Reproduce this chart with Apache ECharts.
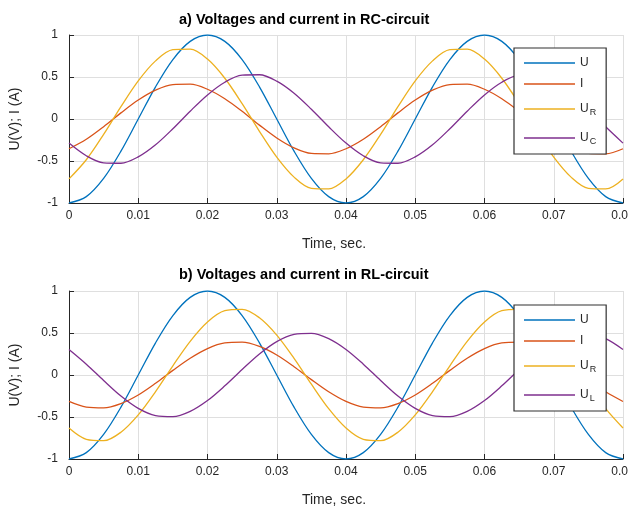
<!DOCTYPE html>
<html>
<head>
<meta charset="utf-8">
<script src="https://cdn.jsdelivr.net/npm/echarts@6/dist/echarts.min.js"></script>
<style>
  html, body { margin: 0; padding: 0; background: #fff; }
  #main { width: 628px; height: 508px; }
</style>
</head>
<body>
<div id="main"></div>
<script>
// time samples, sec.
var time = [0, 0.0025, 0.005, 0.0075, 0.01, 0.0125, 0.015, 0.0175, 0.02, 0.0225, 0.025, 0.0275, 0.03, 0.0325, 0.035, 0.0375,
    0.04, 0.0425, 0.045, 0.0475, 0.05, 0.0525, 0.055, 0.0575, 0.06, 0.0625, 0.065, 0.0675, 0.07, 0.0725, 0.075, 0.0775, 0.08];

// supply voltage (same in both circuits)
var uSupply = [-1, -0.924, -0.707, -0.383, 0, 0.383, 0.707, 0.924, 1, 0.924, 0.707, 0.383, 0, -0.383, -0.707, -0.924,
    -1, -0.924, -0.707, -0.383, 0, 0.383, 0.707, 0.924, 1, 0.924, 0.707, 0.383, 0, -0.383, -0.707, -0.924, -1];

// a) RC-circuit
var rcI = [-0.354, -0.241, -0.091, 0.073, 0.226, 0.344, 0.410, 0.414, 0.354, 0.241, 0.091, -0.073, -0.226, -0.344, -0.410, -0.414,
    -0.354, -0.241, -0.091, 0.073, 0.226, 0.344, 0.410, 0.414, 0.354, 0.241, 0.091, -0.073, -0.226, -0.344, -0.410, -0.414, -0.354];
var rcUR = [-0.713, -0.485, -0.183, 0.147, 0.454, 0.692, 0.825, 0.832, 0.713, 0.485, 0.183, -0.147, -0.454, -0.692, -0.825, -0.832,
    -0.713, -0.485, -0.183, 0.147, 0.454, 0.692, 0.825, 0.832, 0.713, 0.485, 0.183, -0.147, -0.454, -0.692, -0.825, -0.832, -0.713];
var rcUC = [-0.287, -0.438, -0.522, -0.527, -0.451, -0.307, -0.116, 0.093, 0.287, 0.438, 0.522, 0.527, 0.451, 0.307, 0.116, -0.093,
    -0.287, -0.438, -0.522, -0.527, -0.451, -0.307, -0.116, 0.093, 0.287, 0.438, 0.522, 0.527, 0.451, 0.307, 0.116, -0.093, -0.287];

// b) RL-circuit
var rlI = [-0.315, -0.382, -0.391, -0.340, -0.238, -0.099, 0.055, 0.200, 0.315, 0.382, 0.391, 0.340, 0.238, 0.099, -0.055, -0.200,
    -0.315, -0.382, -0.391, -0.340, -0.238, -0.099, 0.055, 0.200, 0.315, 0.382, 0.391, 0.340, 0.238, 0.099, -0.055, -0.200, -0.315];
var rlUR = [-0.631, -0.765, -0.782, -0.681, -0.475, -0.198, 0.110, 0.401, 0.631, 0.765, 0.782, 0.681, 0.475, 0.198, -0.110, -0.401,
    -0.631, -0.765, -0.782, -0.681, -0.475, -0.198, 0.110, 0.401, 0.631, 0.765, 0.782, 0.681, 0.475, 0.198, -0.110, -0.401, -0.631];
var rlUL = [0.304, 0.129, -0.065, -0.250, -0.397, -0.483, -0.496, -0.433, -0.304, -0.129, 0.065, 0.250, 0.397, 0.483, 0.496, 0.433,
    0.304, 0.129, -0.065, -0.250, -0.397, -0.483, -0.496, -0.433, -0.304, -0.129, 0.065, 0.250, 0.397, 0.483, 0.496, 0.433, 0.304];

var titles = ['a) Voltages and current in RC-circuit', 'b) Voltages and current in RL-circuit'];
var legendTop = ['U', 'I', 'U_R', 'U_C'];
var legendBottom = ['U', 'I', 'U_R', 'U_L'];

var colors = {U: '#0072BD', I: '#D95319', U_R: '#EDB120', U_C: '#7E2F8E', U_L: '#7E2F8E'};
var axisColor = '#262626';
var font = 'Liberation Sans, Arial, Helvetica, sans-serif';

var chart = echarts.init(document.getElementById('main'), null, {renderer: 'canvas'});

function pairs(arr) {
    return time.map(function (t, i) { return [t, arr[i]]; });
}

function line(name, arr, idx) {
    return {
        name: name,
        type: 'line',
        xAxisIndex: idx,
        yAxisIndex: idx,
        data: pairs(arr),
        smooth: 0.33,
        symbol: 'none',
        showSymbol: false,
        lineStyle: {color: colors[name], width: 1.3},
        itemStyle: {color: colors[name]}
    };
}

function xAxis(idx) {
    return {
        gridIndex: idx,
        type: 'value',
        min: 0,
        max: 0.08,
        interval: 0.01,
        name: 'Time, sec.',
        nameLocation: 'middle',
        nameGap: 34,
        // label sits a bit left of the axis centre in the original
        nameTextStyle: {fontSize: 14, color: axisColor, fontFamily: font, padding: [0, 24, 0, 0]},
        axisLine: {show: true, onZero: false, lineStyle: {color: axisColor, width: 1}},
        axisTick: {show: true, inside: true, length: 5, lineStyle: {color: axisColor}},
        axisLabel: {
            color: axisColor, fontSize: 12, margin: 7, fontFamily: font, hideOverlap: false,
            formatter: function (v) { return String(+v.toFixed(2)); }
        },
        splitLine: {show: true, lineStyle: {color: '#dfdfdf', width: 1}}
    };
}

function yAxis(idx) {
    return {
        gridIndex: idx,
        type: 'value',
        min: -1,
        max: 1,
        interval: 0.5,
        name: 'U(V); I (A)',
        nameLocation: 'middle',
        nameGap: 47,
        nameTextStyle: {fontSize: 14, color: axisColor, fontFamily: font},
        axisLine: {show: true, onZero: false, lineStyle: {color: axisColor, width: 1}},
        axisTick: {show: true, inside: true, length: 5, lineStyle: {color: axisColor}},
        axisLabel: {color: axisColor, fontSize: 12, margin: 11, fontFamily: font},
        splitLine: {show: true, lineStyle: {color: '#dfdfdf', width: 1}}
    };
}

function legend(data, top) {
    return {
        orient: 'vertical',
        left: 514,
        top: top,
        data: data,
        icon: 'rect',
        itemWidth: 51,
        itemHeight: 1.5,
        itemGap: 9,
        padding: [9, 10, 6, 10],
        backgroundColor: '#fff',
        borderColor: '#303030',
        borderWidth: 1.2,
        borderRadius: 0,
        selectedMode: false,
        formatter: function (name) {
            var p = name.split('_');
            if (p.length > 1) {
                return '{m|' + p[0] + '}{s|' + p[1] + '}';
            }
            return '{n|' + name + '}';
        },
        textStyle: {
            color: axisColor,
            fontFamily: font,
            rich: {
                n: {fontSize: 12, lineHeight: 14, color: axisColor, fontFamily: font},
                m: {fontSize: 12, lineHeight: 14, padding: [3, 0, 4, 0], color: axisColor, fontFamily: font},
                s: {fontSize: 9, lineHeight: 10, padding: [9, 0, 2, 1], color: axisColor, fontFamily: font}
            }
        }
    };
}

var option = {
    animation: false,
    backgroundColor: '#fff',
    textStyle: {fontFamily: font},
    title: [
        {
            text: titles[0], left: 174, top: 7,
            textStyle: {fontSize: 14.5, fontWeight: 'bold', color: '#000', fontFamily: font}
        },
        {
            text: titles[1], left: 174, top: 262,
            textStyle: {fontSize: 14.5, fontWeight: 'bold', color: '#000', fontFamily: font}
        }
    ],
    grid: [
        {left: 69, top: 35, width: 554, height: 168, outerBoundsMode: 'none'},
        {left: 69, top: 291, width: 554, height: 168, outerBoundsMode: 'none'}
    ],
    xAxis: [xAxis(0), xAxis(1)],
    yAxis: [yAxis(0), yAxis(1)],
    legend: [legend(legendTop, 48), legend(legendBottom, 305)],
    series: [
        line('U', uSupply, 0),
        line('I', rcI, 0),
        line('U_R', rcUR, 0),
        line('U_C', rcUC, 0),
        line('U', uSupply, 1),
        line('I', rlI, 1),
        line('U_R', rlUR, 1),
        line('U_L', rlUL, 1)
    ]
};

chart.setOption(option);
</script>
</body>
</html>
